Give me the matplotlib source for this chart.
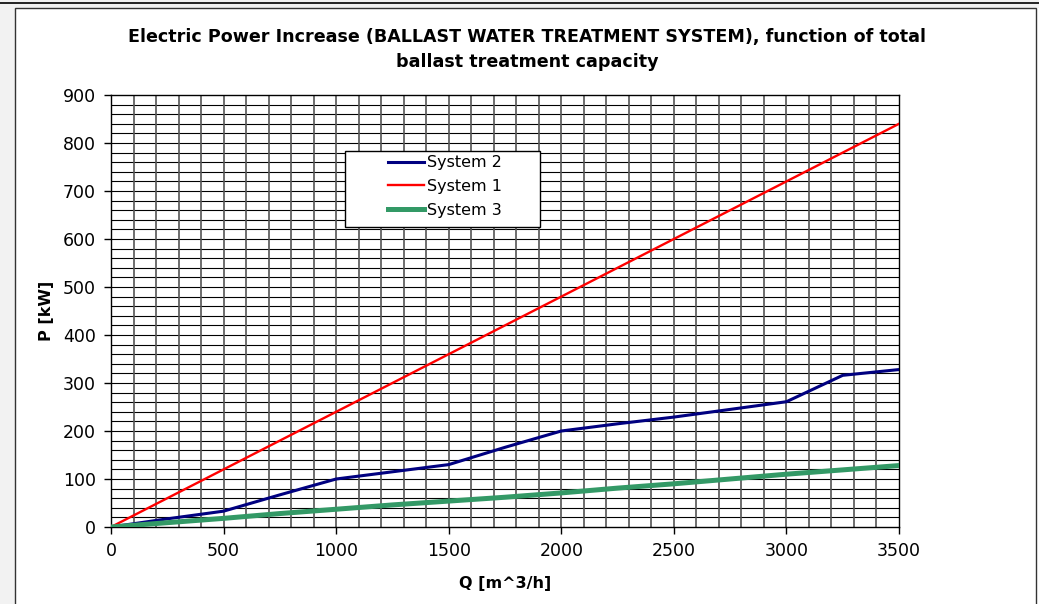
import numpy as np
import matplotlib.pyplot as plt
from matplotlib.patches import Rectangle

plt.rcParams['font.family'] = ['DejaVu Sans']

# Data
q = [0, 250, 500, 750, 1000, 1250, 1500, 1750, 2000, 2250, 2500, 2750, 3000, 3250, 3500]
system1 = [0, 60, 120, 180, 240, 300, 360, 420, 480, 540, 600, 660, 720, 780, 840]
system2 = [0, 17, 33, 67, 100, 115, 130, 166, 200, 215, 229, 245, 261, 316, 328]
system3 = [0, 9, 18, 28, 37, 46, 54, 62, 71, 81, 90, 100, 110, 119, 128]

title = "Electric Power Increase (BALLAST WATER TREATMENT SYSTEM), function of total\nballast treatment capacity"

fig = plt.figure(figsize=(10.39, 6.04), dpi=100)
fig.patch.set_facecolor('white')

# screenshot-like frame around the chart area
fig.add_artist(Rectangle((0, 0), 15 / 1039, 1, transform=fig.transFigure,
                         facecolor='#f2f2f2', edgecolor='none', zorder=0))
fig.add_artist(Rectangle((0, 1 - 8 / 604), 1, 8 / 604, transform=fig.transFigure,
                         facecolor='#f2f2f2', edgecolor='none', zorder=0))
fig.add_artist(plt.Line2D([0, 1], [1 - 2.5 / 604, 1 - 2.5 / 604], transform=fig.transFigure,
                          color='black', lw=1.2))
fig.add_artist(Rectangle((15 / 1039, -0.01), 1021 / 1039, 1 - 8 / 604 + 0.01,
                         transform=fig.transFigure, facecolor='white',
                         edgecolor='#333333', lw=1.0, zorder=0))

ax = fig.add_axes([111 / 1039, 1 - 527 / 604, 788 / 1039, 432 / 604])

# grid
for yv in np.arange(20, 900, 20):
    ax.axhline(yv, color='black', lw=0.8, zorder=1)
for xv in np.arange(100, 3500, 100):
    ax.axvline(xv, color='#555555', lw=1.2, zorder=1)

ax.plot(q, system2, color='#000080', lw=2.2, label='System 2', zorder=3)
ax.plot(q, system1, color='#ff0000', lw=1.7, label='System 1', zorder=3)
ax.plot(q, system3, color='#339966', lw=3.6, label='System 3', zorder=3)

ax.set_xlim(0, 3500)
ax.set_ylim(0, 900)
ax.set_xticks(np.arange(0, 3501, 500))
ax.set_yticks(np.arange(0, 901, 100))
ax.tick_params(axis='both', direction='out', length=5, width=1, labelsize=12.5, pad=6)
for s in ax.spines.values():
    s.set_color('black')
    s.set_linewidth(1.0)

ax.set_xlabel('Q [m^3/h]', fontsize=11.5, fontweight='bold', labelpad=11)
ax.set_ylabel('P [kW]', fontsize=11.5, fontweight='bold', labelpad=6)

fig.text(527 / 1039, 1 - 49.5 / 604, title, ha='center', va='center',
         fontsize=12.6, fontweight='bold', linespacing=1.45)

# legend box
ax.add_patch(Rectangle((0.297, 0.694), 0.247, 0.176, transform=ax.transAxes,
                       facecolor='white', edgecolor='black', lw=1.0, zorder=4))
leg = ax.legend(loc='center', bbox_to_anchor=(0.424, 0.788), frameon=False,
                fontsize=11.5, handlelength=2.2, handletextpad=0.2, labelspacing=0.55)
leg.set_zorder(5)

fig.savefig('out.png', dpi=100)
